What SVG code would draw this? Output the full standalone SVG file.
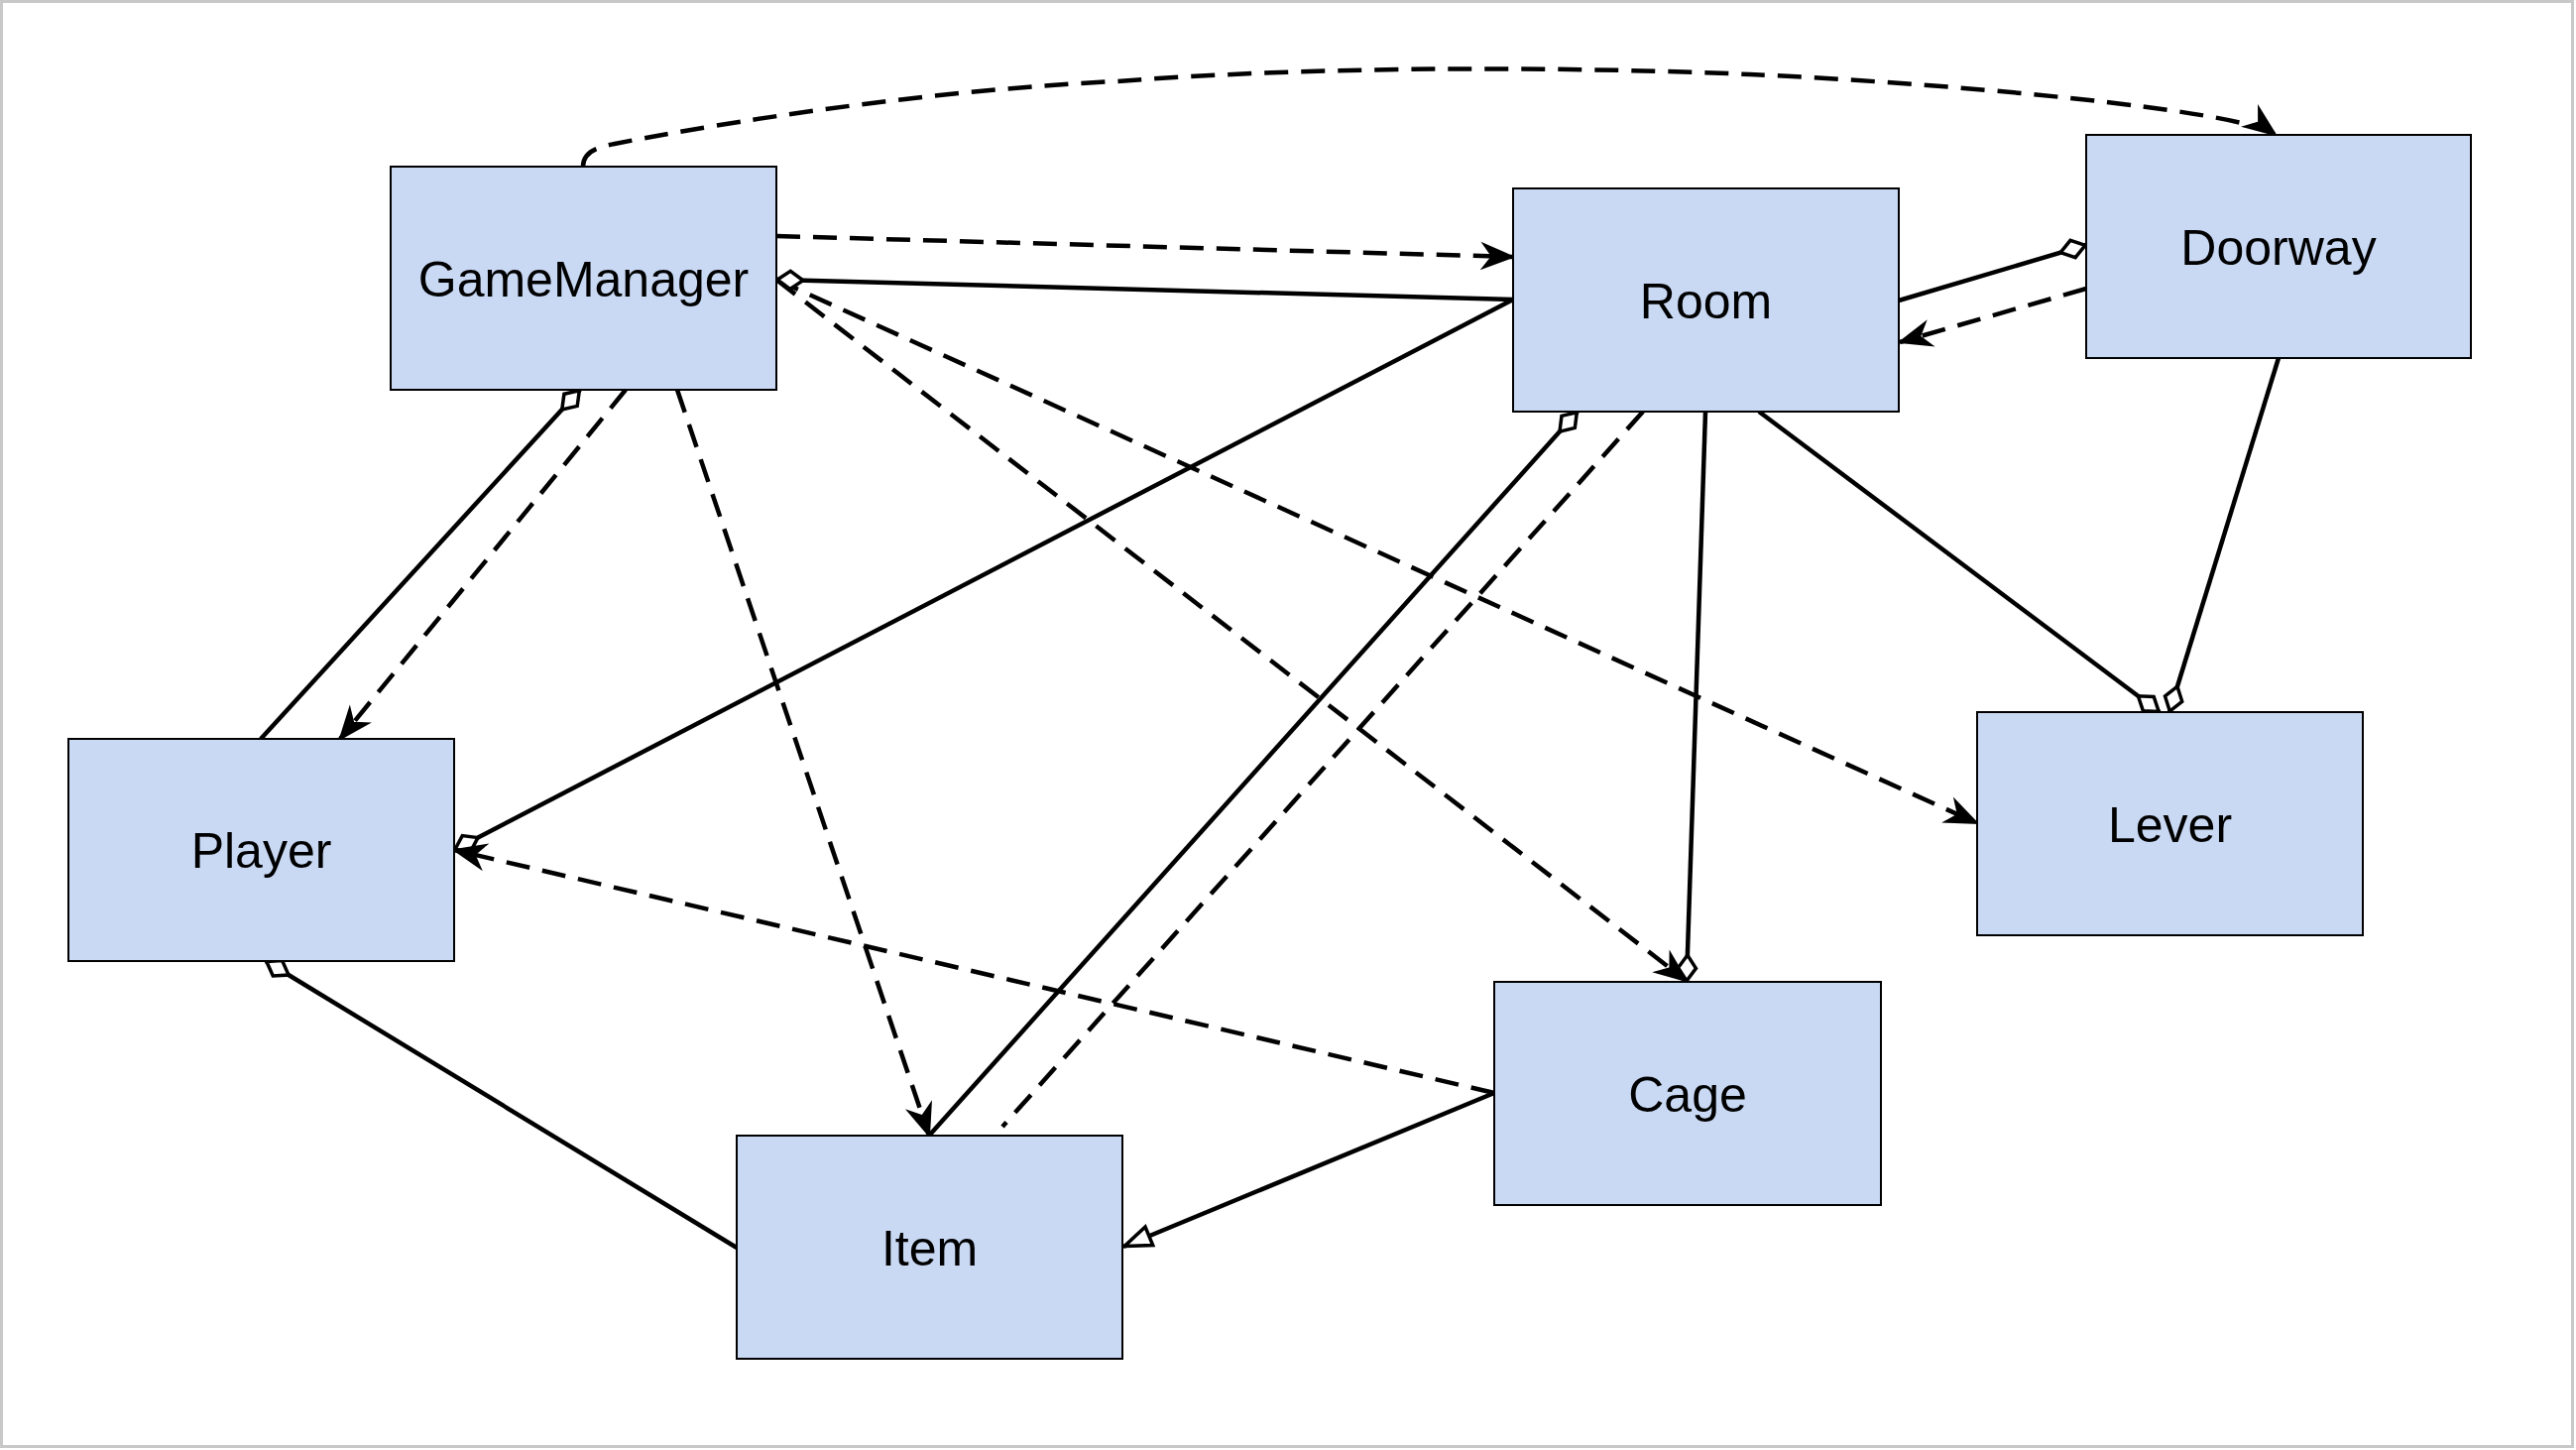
<svg xmlns="http://www.w3.org/2000/svg" width="2598" height="1462" viewBox="0 0 2598 1462">
<style>
  .node rect { fill: #c9d9f4; stroke: #000; stroke-width: 2; }
  .node text { font-family: "Liberation Sans", Arial, sans-serif; font-size: 50px; fill: #000; text-anchor: middle; }
  .edge { fill: none; stroke: #000; stroke-width: 4.5; }
  .dash { stroke-dasharray: 24 13; }
</style>
<defs>
  <marker id="arrow" markerUnits="userSpaceOnUse" viewBox="-36 -18 40 36" markerWidth="40" markerHeight="36" refX="0" refY="0" orient="auto" overflow="visible">
    <path d="M0,0 L-30,-12 L-21,0 L-30,12 Z" fill="#000" stroke="#000" stroke-width="2" stroke-linejoin="miter"/>
  </marker>
  <marker id="diamond" markerUnits="userSpaceOnUse" viewBox="-4 -14 36 28" markerWidth="36" markerHeight="28" refX="0" refY="0" orient="auto" overflow="visible">
    <path d="M1,0 L14,-9 L27,0 L14,9 Z" fill="#fff" stroke="#000" stroke-width="3.5"/>
  </marker>
  <marker id="triangle" markerUnits="userSpaceOnUse" viewBox="-34 -16 38 32" markerWidth="38" markerHeight="32" refX="0" refY="0" orient="auto" overflow="visible">
    <path d="M-1,0 L-28,-10 L-28,10 Z" fill="#fff" stroke="#000" stroke-width="3.5"/>
  </marker>
</defs>
<rect x="1.5" y="1.5" width="2593" height="1457" fill="#fff" stroke="#c8c8c8" stroke-width="3"/>
<g id="connectors">
  <path class="edge dash" d="M588,168 C588,155 598,149 620,145 C680,133 900,93 1126,82 C1350,65 1600,68 1765,75 C1950,83 2260,110 2295,136" marker-end="url(#arrow)"/>
  <path class="edge dash" d="M783,238 L1526,259" marker-end="url(#arrow)"/>
  <path class="edge dash" d="M783,282 L1994,830" marker-end="url(#arrow)"/>
  <path class="edge dash" d="M783,282 L1701,989" marker-end="url(#arrow)"/>
  <path class="edge" d="M783,282 L1526,302" marker-start="url(#diamond)"/>
  <path class="edge" d="M585,393 L263,745" marker-start="url(#diamond)"/>
  <path class="edge dash" d="M631,393 L343,745" marker-end="url(#arrow)"/>
  <path class="edge dash" d="M683,393 L937,1145" marker-end="url(#arrow)"/>
  <path class="edge" d="M458,857 L1526,302" marker-start="url(#diamond)"/>
  <path class="edge dash" d="M1507,1102 L458,857" marker-end="url(#arrow)"/>
  <path class="edge" d="M1591,415 L937,1145" marker-start="url(#diamond)"/>
  <path class="edge dash" d="M1657,415 L1011,1136"/>
  <path class="edge" d="M1701,990 L1720,415" marker-start="url(#diamond)"/>
  <path class="edge" d="M2178,718 L1774,415" marker-start="url(#diamond)"/>
  <path class="edge" d="M2188,718 L2298,361" marker-start="url(#diamond)"/>
  <path class="edge" d="M2104,247 L1915,303" marker-start="url(#diamond)"/>
  <path class="edge dash" d="M2104,291 L1916,345" marker-end="url(#arrow)"/>
  <path class="edge" d="M1507,1102 L1133,1257" marker-end="url(#triangle)"/>
  <path class="edge" d="M268,969 L743,1258" marker-start="url(#diamond)"/>
</g>
<g id="GameManager" class="node"><rect x="394" y="168" width="389" height="225"/><text x="588.5" y="298.5">GameManager</text></g>
<g id="Room" class="node"><rect x="1526" y="190" width="389" height="225"/><text x="1720.5" y="320.5">Room</text></g>
<g id="Doorway" class="node"><rect x="2104" y="136" width="388" height="225"/><text x="2298" y="266.5">Doorway</text></g>
<g id="Player" class="node"><rect x="69" y="745" width="389" height="224"/><text x="263.5" y="875">Player</text></g>
<g id="Lever" class="node"><rect x="1994" y="718" width="389" height="225"/><text x="2188.5" y="848.5">Lever</text></g>
<g id="Cage" class="node"><rect x="1507" y="990" width="390" height="225"/><text x="1702" y="1120.5">Cage</text></g>
<g id="Item" class="node"><rect x="743" y="1145" width="389" height="225"/><text x="937.5" y="1275.5">Item</text></g>
</svg>
